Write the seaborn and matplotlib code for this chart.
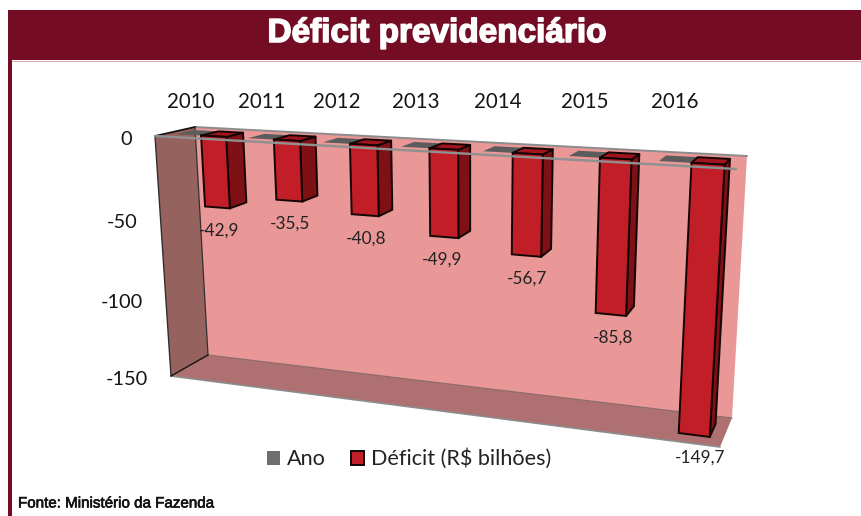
import numpy as np
import pandas as pd
import matplotlib
matplotlib.use("Agg")
import matplotlib.pyplot as plt
import matplotlib.patheffects as pe
from matplotlib.patches import Polygon, Rectangle
from matplotlib.transforms import Affine2D, Transform
import seaborn as sns

# Chart data
anos = ["2010", "2011", "2012", "2013", "2014", "2015", "2016"]
deficit = [-42.9, -35.5, -40.8, -49.9, -56.7, -85.8, -149.7]
ano_serie = [0, 0, 0, 0, 0, 0, 0]
rotulos = ["-42,9", "-35,5", "-40,8", "-49,9", "-56,7", "-85,8", "-149,7"]
eixo_y = [0, -50, -100, -150]
serie_ano = "Ano"
serie_deficit = "Déficit (R$ bilhões)"

W, H = 861, 516

sns.set_theme(style="white")
plt.rcParams["font.family"] = ["Lato", "DejaVu Sans"]

# Box corners of the 3D plot area, in pixels: front plane and back wall
FRENTE = np.array([[155, 136], [736, 169], [720, 447], [171, 376]], float)
FUNDO = np.array([[195, 127], [747, 156], [732, 418], [208, 355]], float)
Y_MIN = -150.0
N = len(anos)


def homografia(cantos):
    """Matrix sending the unit square (u, v) onto four corners."""
    src = [(0, 0), (1, 0), (1, 1), (0, 1)]
    A, b = [], []
    for (u, v), (x, y) in zip(src, cantos):
        A.append([u, v, 1, 0, 0, 0, -u * x, -v * x])
        A.append([0, 0, 0, u, v, 1, -u * y, -v * y])
        b += [x, y]
    return np.append(np.linalg.solve(np.array(A), np.array(b)), 1).reshape(3, 3)


def projeta(xy, prof):
    """Category position and value at a depth (0 front, 1 back) to pixels."""
    xy = np.atleast_2d(xy)
    M = homografia(FRENTE + (FUNDO - FRENTE) * prof)
    u = (xy[:, 0] + 0.5) / N
    v = xy[:, 1] / Y_MIN
    p = np.c_[u, v, np.ones(len(u))] @ M.T
    return p[:, :2] / p[:, 2:]


class Perspectiva(Transform):
    input_dims = output_dims = 2
    is_affine = False

    def __init__(self, prof):
        super().__init__()
        self.prof = prof

    def transform_non_affine(self, values):
        p = projeta(values, self.prof)
        return np.c_[p[:, 0], H - p[:, 1]]


df = pd.DataFrame({
    "ano": anos * 2,
    "valor": ano_serie + deficit,
    "serie": [serie_ano] * N + [serie_deficit] * N,
})

VERM, LADO, TOPO = "#c21e27", "#7f1015", "#a0141c"
BORDA = "#140505"
CINZA = "#5c5c5c"
P1, P2 = 0.27, 0.72

fig = plt.figure(figsize=(W / 100, H / 100), dpi=100, facecolor="white")
ax = fig.add_axes([0, 0, 1, 1])
sns.barplot(data=df, x="ano", y="valor", hue="serie", width=0.70, ax=ax,
            palette=["#6e6e6e", VERM], saturation=1, edgecolor=BORDA,
            linewidth=1.4, errorbar=None, gap=0)
ax.set_xlim(-0.5, N - 0.5)
ax.set_ylim(Y_MIN, 0)
ax.axis("off")

pix = Affine2D().scale(1, -1).translate(0, H)


def poligono(pts, cor, borda="none", lw=0.0, z=1):
    ax.add_patch(Polygon(pts, closed=True, facecolor=cor, edgecolor=borda,
                         linewidth=lw, transform=pix, zorder=z,
                         clip_on=False, joinstyle="round"))


def linha(a, b, cor, lw, z):
    ax.plot([a[0], b[0]], [a[1], b[1]], color=cor, lw=lw, transform=pix,
            zorder=z, clip_on=False, solid_capstyle="round")


# Walls and floor of the box
poligono(FUNDO, "#e99797", z=1)
poligono([FRENTE[0], FUNDO[0], FUNDO[3], FRENTE[3]], "#96625e", z=1.1)
poligono([FRENTE[3], FUNDO[3], FUNDO[2], FRENTE[2]], "#ae7070", z=1.1)
linha(FUNDO[0], FUNDO[1], "#8c8c8c", 1.4, 1.2)
linha(FRENTE[3], FRENTE[2], "#8c8c8c", 1.2, 1.2)
linha(FUNDO[3], FUNDO[2], "#8a6a6a", 0.8, 1.2)
linha(FRENTE[0], FUNDO[0], "#141414", 1.3, 1.3)
linha(FRENTE[0], FRENTE[3], "#303030", 1.0, 1.3)
linha(FUNDO[0], FUNDO[3], "#303030", 0.9, 1.3)
linha(FRENTE[3], FUNDO[3], "#141414", 1.0, 1.3)

# Flat plates of the zero-height series, seen from above
for b in ax.containers[0]:
    x0, x1 = b.get_x(), b.get_x() + b.get_width()
    b.set_visible(False)
    frente = projeta([[x0, 0], [x1, 0]], P1)
    tras = projeta([[x1, 0], [x0, 0]], P2)
    poligono(np.r_[frente, tras], CINZA, z=2)

# Front faces come from the seaborn bars; side and top faces extend them in depth
for i, b in enumerate(ax.containers[1]):
    x0, x1 = b.get_x(), b.get_x() + b.get_width()
    v = min(b.get_y(), b.get_y() + b.get_height())
    z = 3 + i * 0.01
    lado = np.r_[projeta([[x1, 0], [x1, v]], P1), projeta([[x1, v], [x1, 0]], P2)]
    topo = np.r_[projeta([[x0, 0], [x1, 0]], P1), projeta([[x1, 0], [x0, 0]], P2)]
    poligono(lado, LADO, BORDA, 1.4, z)
    poligono(topo, TOPO, BORDA, 1.4, z)
    b.set_transform(Perspectiva(P1))
    b.set_clip_on(False)
    b.set_zorder(z + 0.001)

# Grey zero line passing over the bars
linha(FRENTE[0], FRENTE[1], "#8f9090", 1.7, 5)

# Value labels under the bars
deslocamento = [2, 1, 1, -2, 1, 2, 6]
for b, txt, dx in zip(ax.containers[1], rotulos, deslocamento):
    v = min(b.get_y(), b.get_y() + b.get_height())
    px, py = projeta([[b.get_x() + b.get_width() / 2, v]], P1)[0]
    ax.text(px + dx, py + 23, txt, transform=pix, ha="center", va="center",
            fontsize=12.4, color="#222222", zorder=6, clip_on=False)

# Year labels along the top
for i, a in enumerate(anos):
    px = projeta([[i, 0]], 0.0)[0][0]
    ax.text(px - 2.1 * i, 102, a, transform=pix, ha="center", va="center",
            fontsize=14.8, color="#151515", clip_on=False)

# Value axis labels
for t in eixo_y:
    px, py = projeta([[-0.5, t]], 0.0)[0]
    ax.text(px - 23, py + 3.5, str(t), transform=pix, ha="right", va="center",
            fontsize=14.4, color="#151515", clip_on=False)

# Header band and left stripe
FAIXA = "#740c23"
ax.add_patch(Rectangle((8, 10), W - 8, 50, facecolor=FAIXA, edgecolor="none",
                       transform=pix, zorder=8, clip_on=False))
ax.add_patch(Rectangle((8, 10), 4.3, H - 10, facecolor=FAIXA, edgecolor="none",
                       transform=pix, zorder=8, clip_on=False))
linha((12, 60.5), (W, 60.5), "#d9a9b4", 0.7, 8)
ax.text(437.5, 33.5, "Déficit previdenciário", transform=pix, ha="center",
        va="center", fontsize=24, fontweight="bold", color="white",
        family="Liberation Sans", zorder=9, clip_on=False,
        path_effects=[pe.withStroke(linewidth=1.1, foreground="white")])
ax.text(18, 503.5, "Fonte: Ministério da Fazenda", transform=pix, ha="left",
        va="center", fontsize=10.9, color="#111111", family="Liberation Sans",
        zorder=9, clip_on=False,
        path_effects=[pe.withStroke(linewidth=0.45, foreground="#111111")])

# Legend
sns.move_legend(ax, "center", bbox_to_anchor=(409 / W, 1 - 459 / H), ncol=2,
                frameon=False, title=None, fontsize=15.6, handlelength=0.62,
                handleheight=0.62, handletextpad=0.32, columnspacing=1.15,
                labelcolor="#222222")
leg = ax.get_legend()
leg.legend_handles[0].set_edgecolor("none")
leg.legend_handles[1].set_edgecolor(BORDA)
leg.set_zorder(7)

fig.savefig("out.png", dpi=100, facecolor="white")
